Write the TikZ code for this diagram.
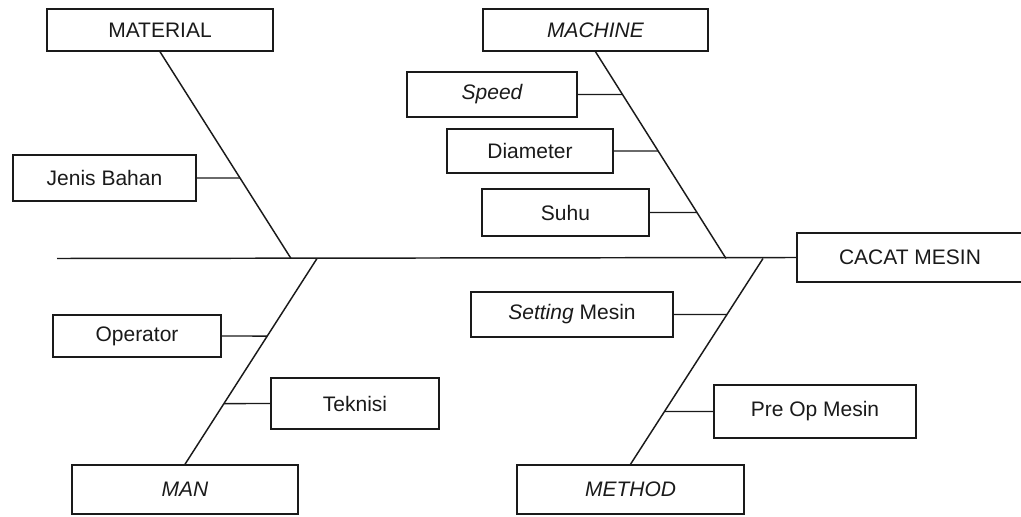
\documentclass[tikz,border=0pt]{standalone}
\usepackage{fontspec}
\setmainfont{Liberation Sans}
\definecolor{ink}{HTML}{1A1A1A}
\begin{document}
\begin{tikzpicture}[x=0.75pt,y=-0.75pt,line width=1.1pt,
  box/.style={draw=ink,rectangle,inner sep=0pt,line width=1.1pt,text=ink,font=\fontsize{15.75}{18}\selectfont},
  sz/.style 2 args={minimum width=#1*0.75pt,minimum height=#2*0.75pt},
  bone/.style={draw=ink,line width=1.1pt}]
\useasboundingbox (0,0) rectangle (1021,517);
% boxes
\node[box,sz={226}{42}] (material) at (160,30) {MATERIAL};
\node[box,sz={183}{46}] (jenis) at (104.5,178) {Jenis Bahan};
\node[box,sz={225}{42}] (machine) at (595.5,30) {\itshape MACHINE};
\node[box,sz={170}{45}] (speed) at (492,94.5) {\itshape Speed};
\node[box,sz={166}{44}] (diameter) at (530,151) {Diameter};
\node[box,sz={167}{47}] (suhu) at (565.5,212.5) {Suhu};
\node[box,sz={226}{49}] (cacat) at (910,257.5) {CACAT MESIN};
\node[box,sz={168}{42}] (operator) at (137,336) {\raisebox{-3pt}{Operator}};
\node[box,sz={168}{51}] (teknisi) at (355,403.5) {Teknisi};
\node[box,sz={226}{49}] (man) at (185,489.5) {\itshape MAN};
\node[box,sz={202}{45}] (setting) at (572,314.5) {\textit{Setting} Mesin};
\node[box,sz={202}{53}] (preop) at (815,411.5) {Pre Op Mesin};
\node[box,sz={227}{49}] (method) at (630.5,489.5) {\itshape METHOD};
% spine
\coordinate (tail) at (57,258.5);
\coordinate (jm) at (291,258.5);
\coordinate (jc) at (726,258.5);
\coordinate (jn) at (317,258.5);
\coordinate (jt) at (763,258.5);
\draw[bone] (tail) -- (cacat.west);
% main bones
\draw[bone] (material.south) -- (jm);
\draw[bone] (machine.south) -- (jc);
\draw[bone] (man.north) -- (jn);
\draw[bone] (method.north) -- (jt);
% branches
\draw[bone] (jenis.east) -- (intersection of jenis.east--jenis.center and material.south--jm);
\draw[bone] (speed.east) -- (intersection of speed.east--speed.center and machine.south--jc);
\draw[bone] (diameter.east) -- (intersection of diameter.east--diameter.center and machine.south--jc);
\draw[bone] (suhu.east) -- (intersection of suhu.east--suhu.center and machine.south--jc);
\draw[bone] (operator.east) -- (intersection of operator.east--operator.center and man.north--jn);
\draw[bone] (teknisi.west) -- (intersection of teknisi.west--teknisi.center and man.north--jn);
\draw[bone] (setting.east) -- (intersection of setting.east--setting.center and method.north--jt);
\draw[bone] (preop.west) -- (intersection of preop.west--preop.center and method.north--jt);
\end{tikzpicture}
\end{document}
